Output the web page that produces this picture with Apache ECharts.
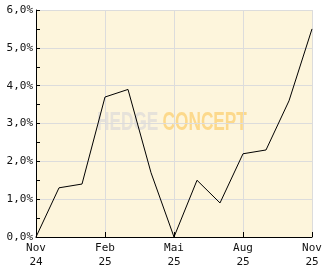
<!DOCTYPE html>
<html><head><meta charset="utf-8">
<script src="https://cdn.jsdelivr.net/npm/echarts@6/dist/echarts.min.js"></script>
<style>html,body{margin:0;padding:0;background:#fff}#c{width:332px;height:269px}</style>
</head><body><div id="c"></div>
<script>
const months = ["Nov\n24","Dez\n24","Jan\n25","Feb\n25","Mär\n25","Apr\n25","Mai\n25","Jun\n25","Jul\n25","Aug\n25","Sep\n25","Okt\n25","Nov\n25"];
const values = [0.0, 1.3, 1.4, 3.7, 3.9, 1.7, 0.0, 1.5, 0.9, 2.2, 2.3, 3.6, 5.5];
const yMin = 0, yMax = 6, yStep = 1;

const font = "DejaVu Sans Mono";
const wmFont = 'Liberation Sans';
const chart = echarts.init(document.getElementById('c'), null, {renderer:'canvas'});
chart.setOption({
  animation:false,
  backgroundColor:'#ffffff',
  grid:{left:36,right:20,top:10,bottom:32,show:true,backgroundColor:'#fdf5dc',borderWidth:0},
  graphic:[{
    type:'group', x:97, y:111, scaleX:0.69, scaleY:1, z:0,
    children:[
      {type:'text', x:0, y:0, style:{text:'HEDGE',fill:'#e6e2da',font:'bold 25px '+wmFont}},
      {type:'text', x:95, y:0, style:{text:'CONCEPT',fill:'#fcd98c',font:'bold 25px '+wmFont}}
    ]
  }],
  xAxis:{
    type:'category', data:months, boundaryGap:false,
    axisLine:{lineStyle:{color:'#000',width:1}},
    axisTick:{show:true,inside:true,length:5,interval:2,lineStyle:{color:'#000'}},
    axisLabel:{interval:2,color:'#111',fontFamily:font,fontSize:11,lineHeight:14,margin:4,
      formatter:(v,i)=> (i%3===0)?v:''},
    splitLine:{show:true,interval:2,lineStyle:{color:'#dcdcdc',width:1}}
  },
  yAxis:{
    type:'value', min:yMin, max:yMax, interval:yStep,
    axisLine:{show:true,lineStyle:{color:'#000',width:1}},
    axisTick:{show:true,inside:true,length:4,lineStyle:{color:'#000'}},
    minorTick:{show:true,splitNumber:2,length:4,lineStyle:{color:'#000'}},
    axisLabel:{color:'#111',fontFamily:font,fontSize:11,margin:3,
      formatter:v=>v.toFixed(1).replace('.',',')+'%'},
    splitLine:{show:true,lineStyle:{color:'#dcdcdc',width:1}}
  },
  series:[{type:'line',data:values,symbol:'none',z:5,
    lineStyle:{color:'#000',width:1}}]
});
</script></body></html>
